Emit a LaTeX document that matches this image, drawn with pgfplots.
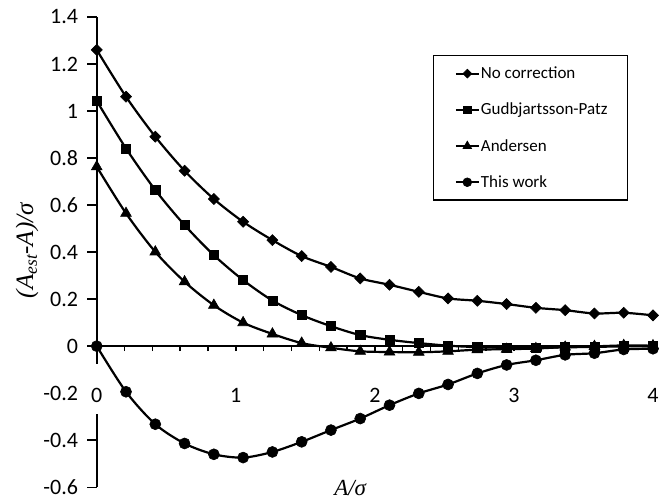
\documentclass[border=0pt]{standalone}
\usepackage{fontspec}
\setmainfont{Carlito}
\newfontfamily\tnr{Liberation Serif}
\usepackage{pgfplots}
\pgfplotsset{compat=1.18}
\pgfplotstableread{
x        nc      gp      an      tw
0.0000   1.260   1.043   0.763   0.000
0.2105   1.061   0.841   0.565  -0.194
0.4211   0.891   0.664   0.401  -0.332
0.6316   0.746   0.515   0.274  -0.414
0.8421   0.626   0.387   0.174  -0.460
1.0526   0.529   0.281   0.100  -0.474
1.2632   0.451   0.194   0.052  -0.450
1.4737   0.383   0.132   0.013  -0.407
1.6842   0.337   0.085  -0.007  -0.357
1.8947   0.288   0.047  -0.022  -0.308
2.1053   0.261   0.027  -0.025  -0.251
2.3158   0.231   0.013  -0.026  -0.201
2.5263   0.203   0.002  -0.022  -0.163
2.7368   0.193  -0.004  -0.015  -0.116
2.9474   0.179  -0.006  -0.013  -0.080
3.1579   0.163  -0.006  -0.010  -0.060
3.3684   0.153  -0.005  -0.004  -0.037
3.5789   0.139  -0.003  -0.001  -0.030
3.7895   0.142  -0.001   0.003  -0.014
4.0000   0.131   0.000   0.002  -0.011
}\datatable
\begin{document}
\begin{tikzpicture}
\begin{axis}[
  scale only axis,
  width=556pt, height=470pt,
  xmin=0, xmax=4, ymin=-0.6, ymax=1.4,
  axis y line=left, axis x line=middle,
  axis line style={-, line width=1.6pt},
  hide obscured x ticks=false, hide obscured y ticks=false,
  tick align=outside,
  major tick length=9.5pt, minor tick length=5pt,
  tick style={line width=1.4pt, black},
  ytick={-0.6,-0.4,-0.2,0,0.2,0.4,0.6,0.8,1,1.2,1.4},
  yticklabels={-0.6,-0.4,-0.2,0,0.2,0.4,0.6,0.8,1,1.2,1.4},
  xtick={0,1,2,3,4},
  xticklabels={0,1,2,3,4},
  minor xtick={0,0.2,0.4,0.6,0.8,1,1.2,1.4,1.6,1.8,2,2.2,2.4,2.6,2.8,3,3.2,3.4,3.6,3.8,4},
  major x tick style={draw=none},
  ticklabel style={font=\fontsize{22}{25}\selectfont},
  yticklabel style={inner xsep=9pt},
  xticklabel style={fill=white, inner ysep=0pt, inner xsep=5pt, text height=39pt, text depth=11pt, yshift=-8pt},
  xlabel={\tnr\itshape A/σ},
  xlabel style={at={(rel axis cs:0.4556,0)}, anchor=base, yshift=-8pt, font=\fontsize{23}{25}\selectfont},
  ylabel={\tnr\itshape (A\textsubscript{est}-A)/σ},
  ylabel style={at={(rel axis cs:0,0.503)}, anchor=center, yshift=69.7pt, font=\fontsize{25}{27}\selectfont},
  legend style={at={(rel axis cs:0.6036,0.919)}, anchor=north west, draw=black, line width=1.4pt,
    font=\fontsize{17}{20}\selectfont, inner xsep=0pt, inner ysep=5.5pt, row sep=11.5pt,
    nodes={inner xsep=1pt, inner ysep=5.7pt}},
  legend cell align=left,
  legend image code/.code={
    \path (-21.5pt,0pt);
    \draw[every mark/.append style={scale=0.8}, mark repeat=2, mark phase=2] plot coordinates {(0pt,0pt) (11.5pt,0pt) (23pt,0pt)};
  },
  every axis plot/.append style={black, line width=2.2pt, smooth},
]
\addplot[mark=square*, mark size=3.9pt, mark options={solid, fill=black, rotate=45, line width=0.6pt}] table[x=x, y=nc] {\datatable};
\addlegendentry{No correction}
\addplot[mark=square*, mark size=4.6pt, mark options={solid, fill=black, line width=0.6pt}] table[x=x, y=gp] {\datatable};
\addlegendentry{Gudbjartsson-Patz\rule{19pt}{0pt}}
\addplot[mark=triangle*, mark size=6.2pt, mark options={solid, fill=black, line width=0.6pt}] table[x=x, y=an] {\datatable};
\addlegendentry{Andersen}
\addplot[mark=*, mark size=5.5pt, mark options={solid, fill=black, line width=0.6pt}] table[x=x, y=tw] {\datatable};
\addlegendentry{This work}
\coordinate (bl) at (rel axis cs:0,0);
\coordinate (tr) at (rel axis cs:1,1);
\end{axis}
\pgfresetboundingbox
\path[use as bounding box] ([xshift=-96.7pt,yshift=-13pt]bl) rectangle ([xshift=15pt,yshift=17pt]tr);
\end{tikzpicture}
\end{document}
